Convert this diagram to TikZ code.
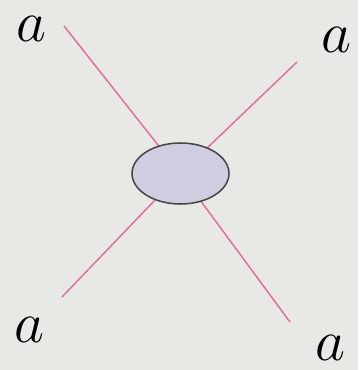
\documentclass[tikz,border=0pt]{standalone}
\usepackage{tikz}
\usetikzlibrary{shapes,positioning}
\definecolor{bggray}{RGB}{232,232,228}
\definecolor{legpink}{RGB}{226,112,162}
\definecolor{blobfill}{RGB}{208,205,224}
\definecolor{blobline}{RGB}{70,70,72}

\begin{document}
\begin{tikzpicture}[x=0.03cm, y=-0.03cm,
  lbl/.style={font=\Huge, scale=2, inner sep=0pt},
  leg/.style={draw=legpink, line width=1.3pt},
  blob/.style={ellipse, draw=blobline, fill=blobfill, line width=1.3pt,
    minimum width=97*0.03cm, minimum height=61*0.03cm, inner sep=0pt}]
\fill[bggray] (0,0) rectangle (358,370);
\useasboundingbox (0,0) rectangle (358,370);
% vertex
\coordinate (c) at (180.5,173.5);
% leg ends
\coordinate (e1) at (64,26);
\coordinate (e2) at (297,62);
\coordinate (e3) at (62,297);
\coordinate (e4) at (290,322);
\draw[leg] (e1) -- (c);
\draw[leg] (e2) -- (c);
\draw[leg] (e3) -- (c);
\draw[leg] (e4) -- (c);
\node[blob] (v) at (c) {};
% labels
\node[lbl] (a1) at (31,29) {$a$};
\node[lbl] (a2) at (336,40) {$a$};
\node[lbl] (a3) at (29,330) {$a$};
\node[lbl] (a4) at (330,348) {$a$};
\end{tikzpicture}
\end{document}
